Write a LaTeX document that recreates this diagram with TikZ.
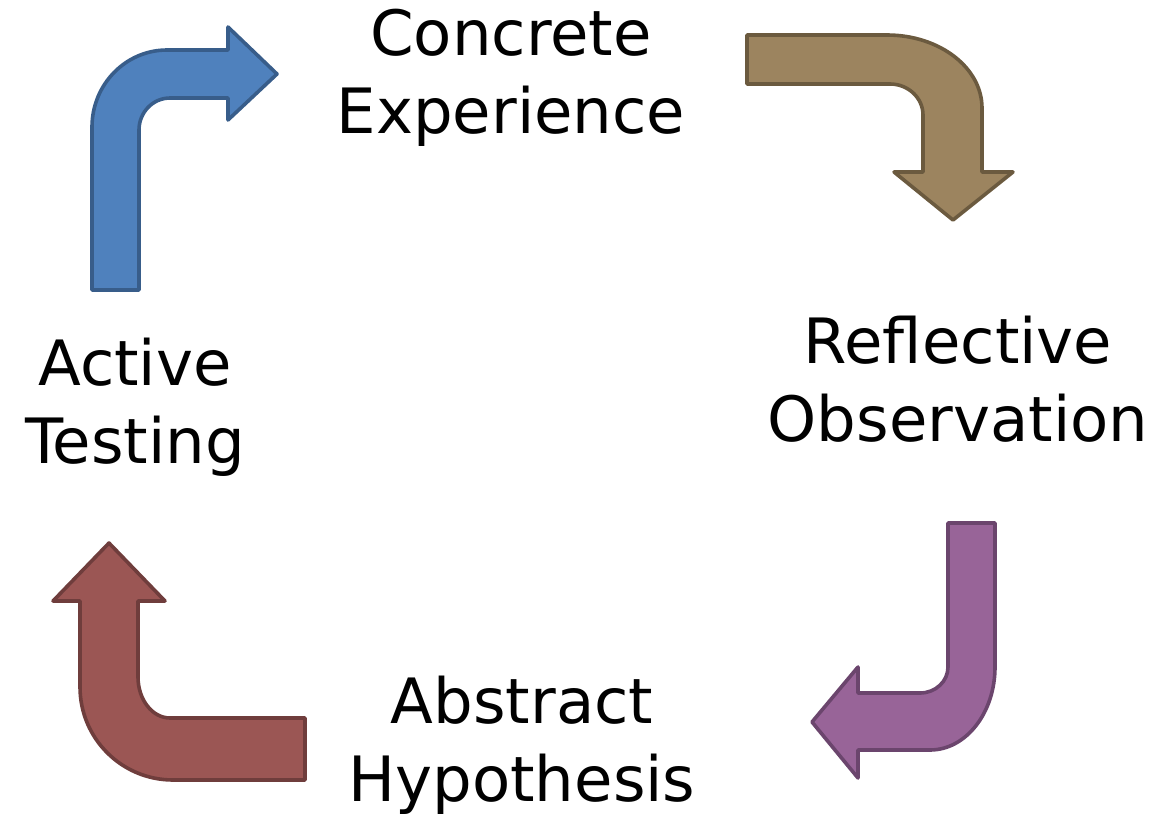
\documentclass[tikz,border=0pt]{standalone}
\usepackage{fontspec}
\setmainfont{DejaVu Sans}
\definecolor{bluefill}{HTML}{4F81BD}
\definecolor{bluedraw}{HTML}{385D8A}
\definecolor{brownfill}{HTML}{9C845F}
\definecolor{browndraw}{HTML}{6B5A3F}
\definecolor{purplefill}{HTML}{986498}
\definecolor{purpledraw}{HTML}{6B456D}
\definecolor{redfill}{HTML}{9B5654}
\definecolor{reddraw}{HTML}{6F3D3C}
\tikzset{
  lbl/.style={anchor=north, inner sep=0pt, align=center, font=\fontsize{62.5}{78}\selectfont},
  bentarrow/.style={line width=3.6pt, line join=round},
}
\begin{document}
\begin{tikzpicture}[x=1pt, y=-1pt]
\useasboundingbox (0,0) rectangle (1160,819);
% blue arrow
\draw[bentarrow, fill=bluefill, draw=bluedraw]
  (92,290) -- (92,127) .. controls (92,84.5) and (125.6,50) .. (167,50)
  -- (228,50) -- (228,27) -- (277,74) -- (228,120) -- (228,98) -- (170,98)
  .. controls (152.9,98) and (139,112.3) .. (139,130) -- (139,290) -- cycle;
% brown arrow
\draw[bentarrow, fill=brownfill, draw=browndraw]
  (747,35) -- (887,35) .. controls (939.5,35) and (982,67.7) .. (982,108)
  -- (982,172) -- (1013,172) -- (953,220) -- (894,172) -- (923,172) -- (923,115)
  .. controls (923,97.9) and (908.2,84) .. (890,84) -- (747,84) -- cycle;
% purple arrow
\draw[bentarrow, fill=purplefill, draw=purpledraw]
  (948,523) -- (995,523) -- (995,667) .. controls (995,712.8) and (965.9,750) .. (930,750)
  -- (858,750) -- (858,778) -- (812,722) -- (858,667) -- (858,693) -- (920,693)
  .. controls (935.5,693) and (948,681.4) .. (948,667) -- cycle;
% red arrow
\draw[bentarrow, fill=redfill, draw=reddraw]
  (305,718) -- (305,780) -- (173,780) .. controls (121.6,780) and (80,738.4) .. (80,687)
  -- (80,601) -- (53,601) -- (109,543) -- (165,601) -- (138,601) -- (138,677)
  .. controls (138,699.6) and (152.3,718) .. (170,718) -- cycle;
% labels
\node[lbl] (ce) at (511,0.4) {\strut Concrete\\\strut Experience};
\node[lbl] (ro) at (958,308.4) {\strut Reflective\\\strut Observation};
\node[lbl] (at) at (135,330.4) {\strut Active\\\strut Testing};
\node[lbl] (ah) at (522,668.4) {\strut Abstract\\\strut Hypothesis};
\end{tikzpicture}
\end{document}
